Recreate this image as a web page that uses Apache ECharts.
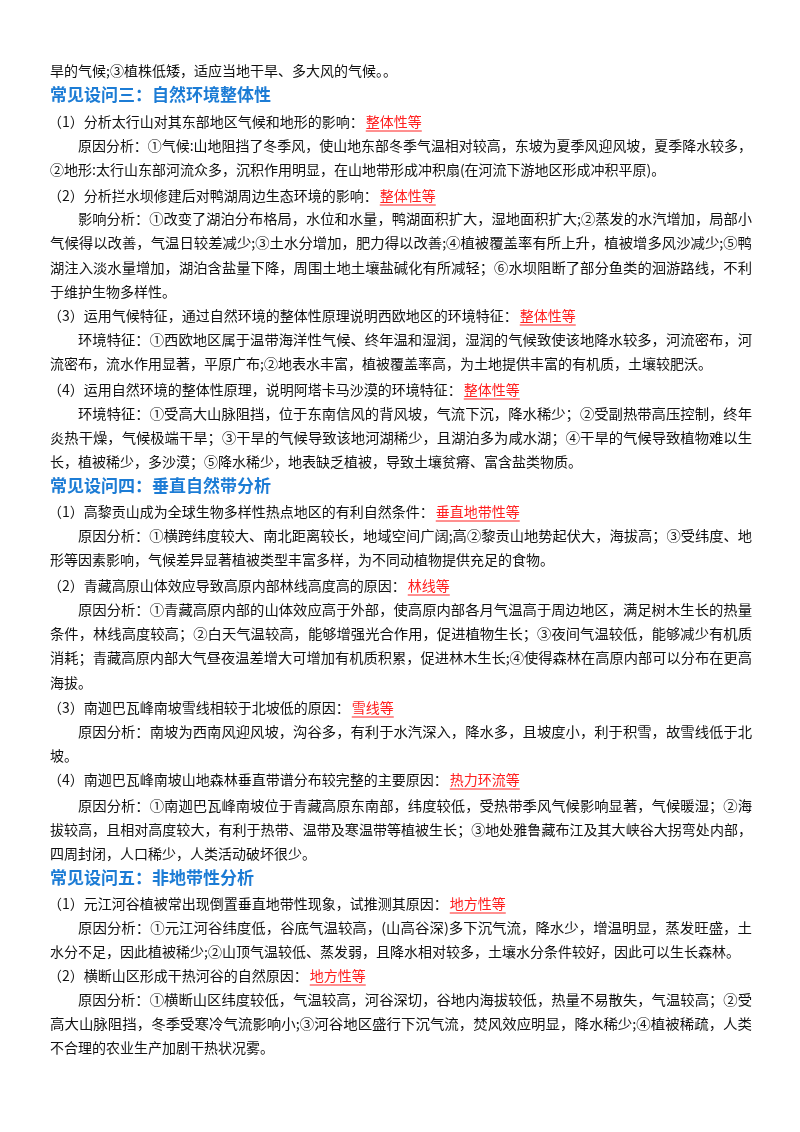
<!DOCTYPE html>
<html><head><meta charset="utf-8">
<script src="https://cdn.jsdelivr.net/npm/echarts@6/dist/echarts.min.js"></script>
<style>html,body{margin:0;padding:0;background:#fff}#c{width:800px;height:1132px}</style>
</head><body><div id="c"></div>
<script>
// line kinds: h = heading, q = question, b = body start (indented), c = continuation
const kinds = ['c','h','q','b','c','q','b','c','c','c','q','b','c','q','b','c','c','h','q','b','c','q','b','c','c','c','q','b','c','q','b','c','c','h','q','b','c','q','b','c','c'];
const texts = [
'旱的气候;③植株低矮，适应当地干旱、多大风的气候。。',
'常见设问三：自然环境整体性',
'（1）分析太行山对其东部地区气候和地形的影响：',
'原因分析：①气候:山地阻挡了冬季风，使山地东部冬季气温相对较高，东坡为夏季风迎风坡，夏季降水较多，',
'②地形:太行山东部河流众多，沉积作用明显，在山地带形成冲积扇(在河流下游地区形成冲积平原)。',
'（2）分析拦水坝修建后对鸭湖周边生态环境的影响：',
'影响分析：①改变了湖泊分布格局，水位和水量，鸭湖面积扩大，湿地面积扩大;②蒸发的水汽增加，局部小',
'气候得以改善，气温日较差减少;③土水分增加，肥力得以改善;④植被覆盖率有所上升，植被增多风沙减少;⑤鸭',
'湖注入淡水量增加，湖泊含盐量下降，周围土地土壤盐碱化有所减轻；⑥水坝阻断了部分鱼类的洄游路线，不利',
'于维护生物多样性。',
'（3）运用气候特征，通过自然环境的整体性原理说明西欧地区的环境特征：',
'环境特征：①西欧地区属于温带海洋性气候、终年温和湿润，湿润的气候致使该地降水较多，河流密布，河',
'流密布，流水作用显著，平原广布;②地表水丰富，植被覆盖率高，为土地提供丰富的有机质，土壤较肥沃。',
'（4）运用自然环境的整体性原理，说明阿塔卡马沙漠的环境特征：',
'环境特征：①受高大山脉阻挡，位于东南信风的背风坡，气流下沉，降水稀少；②受副热带高压控制，终年',
'炎热干燥，气候极端干旱；③干旱的气候导致该地河湖稀少，且湖泊多为咸水湖；④干旱的气候导致植物难以生',
'长，植被稀少，多沙漠；⑤降水稀少，地表缺乏植被，导致土壤贫瘠、富含盐类物质。',
'常见设问四：垂直自然带分析',
'（1）高黎贡山成为全球生物多样性热点地区的有利自然条件：',
'原因分析：①横跨纬度较大、南北距离较长，地域空间广阔;高②黎贡山地势起伏大，海拔高；③受纬度、地',
'形等因素影响，气候差异显著植被类型丰富多样，为不同动植物提供充足的食物。',
'（2）青藏高原山体效应导致高原内部林线高度高的原因：',
'原因分析：①青藏高原内部的山体效应高于外部，使高原内部各月气温高于周边地区，满足树木生长的热量',
'条件，林线高度较高；②白天气温较高，能够增强光合作用，促进植物生长；③夜间气温较低，能够减少有机质',
'消耗；青藏高原内部大气昼夜温差增大可增加有机质积累，促进林木生长;④使得森林在高原内部可以分布在更高',
'海拔。',
'（3）南迦巴瓦峰南坡雪线相较于北坡低的原因：',
'原因分析：南坡为西南风迎风坡，沟谷多，有利于水汽深入，降水多，且坡度小，利于积雪，故雪线低于北',
'坡。',
'（4）南迦巴瓦峰南坡山地森林垂直带谱分布较完整的主要原因：',
'原因分析：①南迦巴瓦峰南坡位于青藏高原东南部，纬度较低，受热带季风气候影响显著，气候暖湿；②海',
'拔较高，且相对高度较大，有利于热带、温带及寒温带等植被生长；③地处雅鲁藏布江及其大峡谷大拐弯处内部，',
'四周封闭，人口稀少，人类活动破坏很少。',
'常见设问五：非地带性分析',
'（1）元江河谷植被常出现倒置垂直地带性现象，试推测其原因：',
'原因分析：①元江河谷纬度低，谷底气温较高，(山高谷深)多下沉气流，降水少，增温明显，蒸发旺盛，土',
'水分不足，因此植被稀少;②山顶气温较低、蒸发弱，且降水相对较多，土壤水分条件较好，因此可以生长森林。',
'（2）横断山区形成干热河谷的自然原因：',
'原因分析：①横断山区纬度较低，气温较高，河谷深切，谷地内海拔较低，热量不易散失，气温较高；②受',
'高大山脉阻挡，冬季受寒冷气流影响小;③河谷地区盛行下沉气流，焚风效应明显，降水稀少;④植被稀疏，人类',
'不合理的农业生产加剧干热状况雾。'
];
const answers = {2:'整体性等',5:'整体性等',10:'整体性等',13:'整体性等',18:'垂直地带性等',21:'林线等',26:'雪线等',29:'热力环流等',34:'地方性等',37:'地方性等'};
const lineY = [71,95,122,146,170,196,219,243,268,292,316,340,364,390,414,438,462,486,512,536,560,586,610,634,658,683,708,732,756,780,806,830,854,878,904,928,952,976,1000,1024,1048];

const chart = echarts.init(document.getElementById('c'));
const font = '"Noto Sans CJK SC", sans-serif';
const g = [];
const measure = (t, f) => echarts.format.getTextRect ? echarts.format.getTextRect(t, f).width : t.length*14;
texts.forEach((t, i) => {
  const k = kinds[i], y = lineY[i];
  let x = 50, size = 14, color = '#111', weight = 'normal';
  if (k === 'h') { size = 17; color = '#1c7cd5'; weight = 'bold'; }
  if (k === 'q') { x = 48; }
  if (k === 'b') { x = 78; }
  const fstr = weight + ' ' + size + 'px ' + font;
  const natural = measure(t, fstr);
  const full = (k === 'b' || k === 'c') && i + 1 < texts.length && kinds[i+1] === 'c' && natural > 560;
  const sx = full ? Math.min(1.06, (752 - x) / natural) : 1;
  g.push({type:'text', x:x, y:y, scaleX:sx, style:{text:t, font:fstr, fill:color, textVerticalAlign:'middle'}});
  if (answers[i]) {
    const ax = x + natural + 2;
    const aw = measure(answers[i], fstr);
    g.push({type:'text', x:ax, y:y, style:{text:answers[i], font:fstr, fill:'#ff2020', textVerticalAlign:'middle'}});
    g.push({type:'line', shape:{x1:ax, y1:y+9, x2:ax+aw, y2:y+9}, style:{stroke:'#ff2020', lineWidth:1}});
  }
});
chart.setOption({backgroundColor:'#fff', graphic:g});
</script></body></html>
